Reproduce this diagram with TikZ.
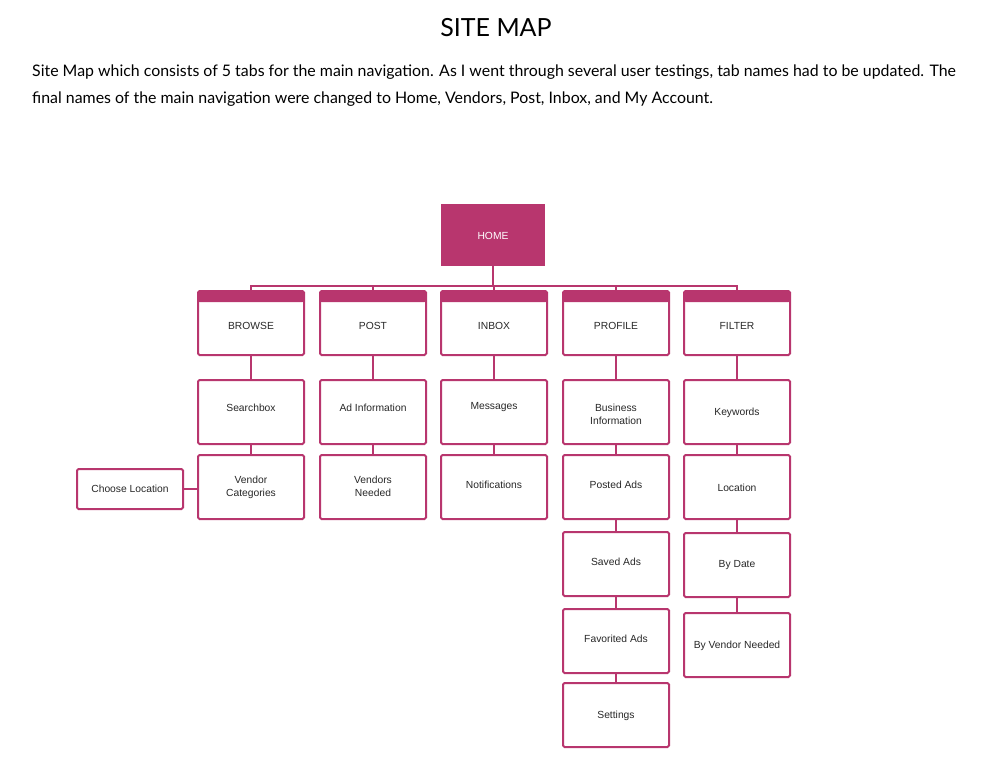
\documentclass[tikz,border=0pt]{standalone}
\usepackage{fontspec}
\setmainfont{Lato}
\newfontfamily\boxfont{Liberation Sans}
\definecolor{mag}{RGB}{184,54,110}
\definecolor{txtgray}{RGB}{40,40,40}
\tikzset{
  box/.style={draw=mag, line width=2pt, rounded corners=1.5pt, fill=white,
    minimum width=106pt, minimum height=64pt, inner sep=0pt},
  tabbox/.style={box, path picture={\fill[mag] (path picture bounding box.north west) rectangle ([yshift=-11pt]path picture bounding box.north east);}},
  homebox/.style={draw=mag, line width=1.5pt, fill=mag, minimum width=102pt, minimum height=60pt, inner sep=0pt},
  small/.style={box, minimum height=40pt},
  lbl/.style={font=\boxfont\fontsize{10.3}{13.3}\selectfont, text=txtgray, align=center, inner sep=0pt},
  conn/.style={draw=mag, line width=2pt},
}
\begin{document}
\begin{tikzpicture}[x=1pt,y=-1pt]
\useasboundingbox (0,0) rectangle (982,756);
% header text
\node[font=\fontsize{25}{28}\selectfont, text=black] (title) at (496,28) {SITE MAP};
\node[anchor=west, font=\fontsize{15.9}{18}\selectfont, text=black, inner sep=0pt] (p1) at (32,72) {Site Map which consists of 5 tabs for the main navigation. As I went through several user testings, tab names had to be updated. The};
\node[anchor=west, font=\fontsize{15.9}{18}\selectfont, text=black, inner sep=0pt] (p2) at (32,99) {final names of the main navigation were changed to Home, Vendors, Post, Inbox, and My Account.};

% home
\node[homebox] (home) at (493,235) {};
\node[lbl, text=white] (homet) at (493,236) {HOME};

% tabs
\node[tabbox] (browse) at (251,323) {};
\node[tabbox] (post) at (373,323) {};
\node[tabbox] (inbox) at (494,323) {};
\node[tabbox] (profile) at (616,323) {};
\node[tabbox] (filter) at (737,323) {};
\node[lbl] (browset) at (251,326) {BROWSE};
\node[lbl] (postt) at (373,326) {POST};
\node[lbl] (inboxt) at (494,326) {INBOX};
\node[lbl] (profilet) at (616,326) {PROFILE};
\node[lbl] (filtert) at (737,326) {FILTER};

% connectors home -> tabs
\foreach \t in {browse,post,inbox,profile,filter}
  \draw[conn] (home.south) -- ++(0,20) -| (\t.north);

% row 2
\node[box] (search) at (251,412) {};
\node[box] (adinfo) at (373,412) {};
\node[box] (msgs) at (494,412) {};
\node[box] (busi) at (616,412) {};
\node[box] (keyw) at (737,412) {};
\node[lbl] at (251,407.5) {Searchbox};
\node[lbl] at (373,407.5) {Ad Information};
\node[lbl] at (494,407.5) {Messages};
\node[lbl] at (616,414) {Business\\Information};
\node[lbl] at (737,412.5) {Keywords};

% row 3
\node[box] (vcat) at (251,487) {};
\node[box] (vneed) at (373,487) {};
\node[box] (notif) at (494,487) {};
\node[box] (posted) at (616,487) {};
\node[box] (loc) at (737,487) {};
\node[lbl] at (251,487) {Vendor\\Categories};
\node[lbl] at (373,486) {Vendors\\Needed};
\node[lbl] at (494,484.5) {Notifications};
\node[lbl] at (616,484.5) {Posted Ads};
\node[lbl] at (737,487.5) {Location};

% choose location
\node[small] (choose) at (130,489) {};
\node[lbl] at (130,489) {Choose Location};

% profile column
\node[box] (saved) at (616,564) {};
\node[box] (fav) at (616,641) {};
\node[box] (settings) at (616,715) {};
\node[lbl] at (616,561.5) {Saved Ads};
\node[lbl] at (616,638.5) {Favorited Ads};
\node[lbl] at (616,715.5) {Settings};

% filter column
\node[box] (bydate) at (737,565) {};
\node[box] (byvend) at (737,645) {};
\node[lbl] at (737,565.5) {By Date};
\node[lbl] at (737,645.5) {By Vendor Needed};

% vertical connectors
\draw[conn] (browse.south) -- (search.north);
\draw[conn] (search.south) -- (vcat.north);
\draw[conn] (post.south) -- (adinfo.north);
\draw[conn] (adinfo.south) -- (vneed.north);
\draw[conn] (inbox.south) -- (msgs.north);
\draw[conn] (msgs.south) -- (notif.north);
\draw[conn] (profile.south) -- (busi.north);
\draw[conn] (busi.south) -- (posted.north);
\draw[conn] (posted.south) -- (saved.north);
\draw[conn] (saved.south) -- (fav.north);
\draw[conn] (fav.south) -- (settings.north);
\draw[conn] (filter.south) -- (keyw.north);
\draw[conn] (keyw.south) -- (loc.north);
\draw[conn] (loc.south) -- (bydate.north);
\draw[conn] (bydate.south) -- (byvend.north);
\draw[conn] (choose.east) -- (vcat.west |- choose.east);
\end{tikzpicture}
\end{document}
